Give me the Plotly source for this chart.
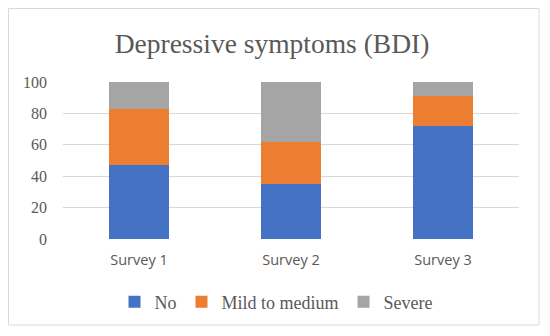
import plotly.graph_objects as go

categories = ["Survey 1", "Survey 2", "Survey 3"]
no_vals = [47, 35, 72]
mild_vals = [36, 27, 19]
severe_vals = [17, 38, 9]
series_names = ["No", "Mild to medium", "Severe"]
colors = ["#4472C4", "#ED7D31", "#A5A5A5"]

fig = go.Figure()
for name, vals, col in zip(series_names, [no_vals, mild_vals, severe_vals], colors):
    fig.add_trace(go.Bar(x=categories, y=vals, name=name,
                         marker=dict(color=col, line=dict(width=0)), width=0.39))

# figure is rendered with an 8px page margin; coordinates below are figure pixels
W, H = 542, 328
L, R, T, B = 55, 31, 74, 97
pw = W - L - R
ph = H - T - B

serif = "Liberation Serif, DejaVu Serif, serif"

fig.update_layout(
    width=W, height=H,
    barmode="stack",
    margin=dict(l=L, r=R, t=T, b=B, autoexpand=False),
    paper_bgcolor="white", plot_bgcolor="white",
    title=dict(text="Depressive symptoms (BDI)", x=264 / W, xanchor="center",
               y=1 - 35 / H, yanchor="middle",
               font=dict(family=serif, size=27.5, color="#595959")),
    showlegend=True,
    legend=dict(orientation="h", x=(268 - L) / pw, xanchor="center",
                y=(H - B - 294) / ph, yanchor="middle",
                font=dict(family=serif, size=18, color="#595959"),
                itemwidth=30, traceorder="normal", tracegroupgap=0),
    xaxis=dict(showgrid=False, showline=False, zeroline=False, ticks="",
               tickfont=dict(family="Open Sans, Liberation Sans, sans-serif", size=14.5, color="#595959"),
               ticklabelstandoff=10),
    yaxis=dict(range=[0, 100], dtick=20, showgrid=True, gridcolor="#D9D9D9", gridwidth=1,
               zeroline=False, showline=False, ticks="",
               tickfont=dict(family=serif, size=16, color="#595959"),
               ticklabelstandoff=15),
    shapes=[dict(type="rect", xref="paper", yref="paper",
                 x0=(0.5 - L) / pw, x1=(531 - L) / pw,
                 y0=(H - B - 317) / ph, y1=(H - B - 0.5) / ph,
                 line=dict(color="#D9D9D9", width=1), fillcolor="rgba(0,0,0,0)", layer="below")],
)

fig.write_html("out.html")
